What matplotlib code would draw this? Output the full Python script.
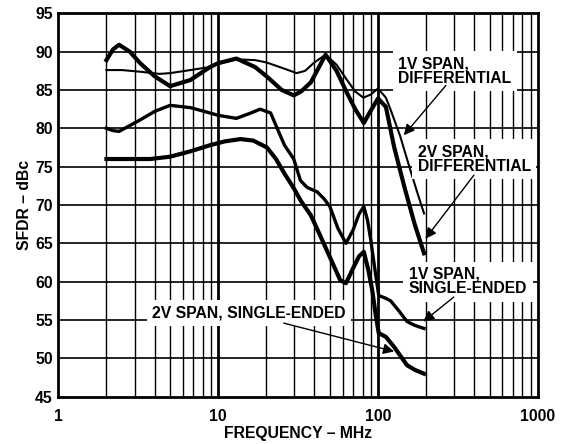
import matplotlib
matplotlib.use("Agg")
import matplotlib.pyplot as plt
from matplotlib.ticker import FixedLocator, NullFormatter

plt.rcParams['font.family'] = ['Liberation Sans', 'DejaVu Sans']
plt.rcParams['font.weight'] = 'bold'

# 1V span, differential (thin)
f_1v_diff = [2, 2.5, 3.2, 4.3, 5, 6.7, 8.9, 10, 13, 17, 20, 25, 31, 35, 40, 47, 55, 64, 72, 81, 90, 100, 112, 120, 129, 138, 159, 175, 194]
v_1v_diff = [87.6, 87.6, 87.4, 87.1, 87.2, 87.6, 88.0, 88.4, 89.0, 88.9, 88.6, 87.9, 87.2, 87.5, 88.6, 89.6, 88.3, 86.3, 84.8, 84.0, 84.4, 85.2, 84.0, 82.4, 80.6, 78.9, 74.6, 71.8, 68.9]

# 2V span, differential (thick)
f_2v_diff = [2, 2.2, 2.4, 2.8, 3.25, 4, 5, 6.7, 8.9, 10, 13, 17, 20.3, 25, 29.7, 33, 38, 47, 55, 64, 72, 81.5, 90, 100, 112, 126, 146, 169, 194]
v_2v_diff = [88.9, 90.3, 90.9, 90.0, 88.5, 86.8, 85.5, 86.3, 88.0, 88.5, 89.1, 88.0, 86.7, 85.0, 84.3, 84.8, 86.0, 89.6, 87.5, 84.6, 82.5, 80.7, 82.3, 83.9, 82.8, 77.6, 72.4, 67.6, 63.7]

# 1V span, single-ended
f_1v_se = [2, 2.2, 2.4, 3.25, 4, 5, 6.7, 8.9, 10, 13, 16, 18.3, 21.3, 23.4, 26, 29.7, 32.7, 36, 41.7, 46, 50, 56, 63, 70, 76, 81.5, 86, 90, 95, 101, 110, 120, 135, 152, 170, 194]
v_1v_se = [80.0, 79.7, 79.6, 81.1, 82.2, 83.0, 82.7, 82.0, 81.7, 81.3, 82.0, 82.5, 82.0, 80.0, 77.8, 76.0, 73.2, 72.3, 71.7, 70.8, 69.8, 67.0, 65.0, 66.8, 68.8, 69.8, 68.0, 65.5, 62.0, 58.2, 57.9, 57.5, 56.2, 54.8, 54.3, 53.9]

# 2V span, single-ended
f_2v_se = [2, 3, 3.76, 5, 6.7, 8.9, 11, 13.8, 16.6, 20.2, 23, 26, 29.7, 33, 37.9, 42, 50, 58, 63, 70, 76, 81.5, 87, 92, 97, 101, 112, 126, 152, 170, 194]
v_2v_se = [76.0, 76.0, 76.0, 76.3, 77.0, 77.8, 78.3, 78.6, 78.4, 77.5, 76.0, 74.1, 72.2, 70.5, 68.7, 66.7, 63.2, 60.2, 59.8, 61.8, 63.3, 63.9, 61.5, 58.9, 55.5, 53.3, 52.8, 51.5, 49.1, 48.5, 48.0]

y_ticks = [45, 50, 55, 60, 65, 70, 75, 80, 85, 90, 95]
x_ticks = [1, 10, 100, 1000]
x_tick_labels = ['1', '10', '100', '1000']

fs = 11.3

fig = plt.figure(figsize=(5.65, 4.44), dpi=100)
ax = fig.add_axes([0.1032, 0.1065, 0.8488, 0.8635])

ax.set_xscale('log')
ax.set_xlim(1, 1000)
ax.set_ylim(45, 95)

# grid
minors = [m * 10 ** d for d in range(3) for m in range(2, 10)]
for xv in minors:
    ax.axvline(xv, color='black', lw=1.0, zorder=1)
for xv in [10, 100]:
    ax.axvline(xv, color='black', lw=2.0, zorder=1)
for yv in y_ticks[1:-1]:
    ax.axhline(yv, color='black', lw=1.2, zorder=1)

ax.plot(f_1v_diff, v_1v_diff, color='black', lw=1.5, zorder=3, solid_joinstyle='round')
ax.plot(f_2v_diff, v_2v_diff, color='black', lw=3.0, zorder=3, solid_joinstyle='round')
ax.plot(f_1v_se, v_1v_se, color='black', lw=2.4, zorder=3, solid_joinstyle='round')
ax.plot(f_2v_se, v_2v_se, color='black', lw=3.0, zorder=3, solid_joinstyle='round')

ax.set_yticks(y_ticks)
ax.set_xticks(x_ticks)
ax.set_xticklabels(x_tick_labels)
ax.xaxis.set_minor_locator(FixedLocator([]))
ax.xaxis.set_minor_formatter(NullFormatter())
ax.tick_params(length=0, labelsize=fs)
ax.tick_params(axis='x', pad=9)
ax.tick_params(axis='y', pad=4)
for lab in ax.get_xticklabels() + ax.get_yticklabels():
    lab.set_fontweight('bold')
for s in ax.spines.values():
    s.set_linewidth(2)
    s.set_zorder(5)

ax.set_xlabel('FREQUENCY – MHz', fontsize=fs, fontweight='bold', labelpad=1)
ax.set_ylabel('SFDR – dBc', fontsize=fs, fontweight='bold', labelpad=2)

box = dict(facecolor='white', edgecolor='none', pad=4)
arr = dict(arrowstyle='-|>', color='black', lw=1.0, mutation_scale=16, shrinkA=0, shrinkB=0)

ax.text(134, 87.5, '1V SPAN,\nDIFFERENTIAL', fontsize=fs, fontweight='bold',
        ha='left', va='center', bbox=box, zorder=4, linespacing=0.95)
ax.annotate('', xy=(145, 79.1), xytext=(266, 85.6), arrowprops=arr, zorder=6)

ax.text(177, 76.0, '2V SPAN,\nDIFFERENTIAL', fontsize=fs, fontweight='bold',
        ha='left', va='center', bbox=box, zorder=4, linespacing=0.95)
ax.annotate('', xy=(198, 65.6), xytext=(398, 73.9), arrowprops=arr, zorder=6)

ax.text(156, 60.0, '1V SPAN,\nSINGLE-ENDED', fontsize=fs, fontweight='bold',
        ha='left', va='center', bbox=box, zorder=4, linespacing=0.95)
ax.annotate('', xy=(192, 54.8), xytext=(298, 58.0), arrowprops=arr, zorder=6)

ax.text(3.87, 55.9, '2V SPAN, SINGLE-ENDED', fontsize=fs, fontweight='bold',
        ha='left', va='center', bbox=box, zorder=4)
ax.annotate('', xy=(126, 50.9), xytext=(25.7, 54.6), arrowprops=arr, zorder=6)

fig.savefig('out.png', dpi=100)
